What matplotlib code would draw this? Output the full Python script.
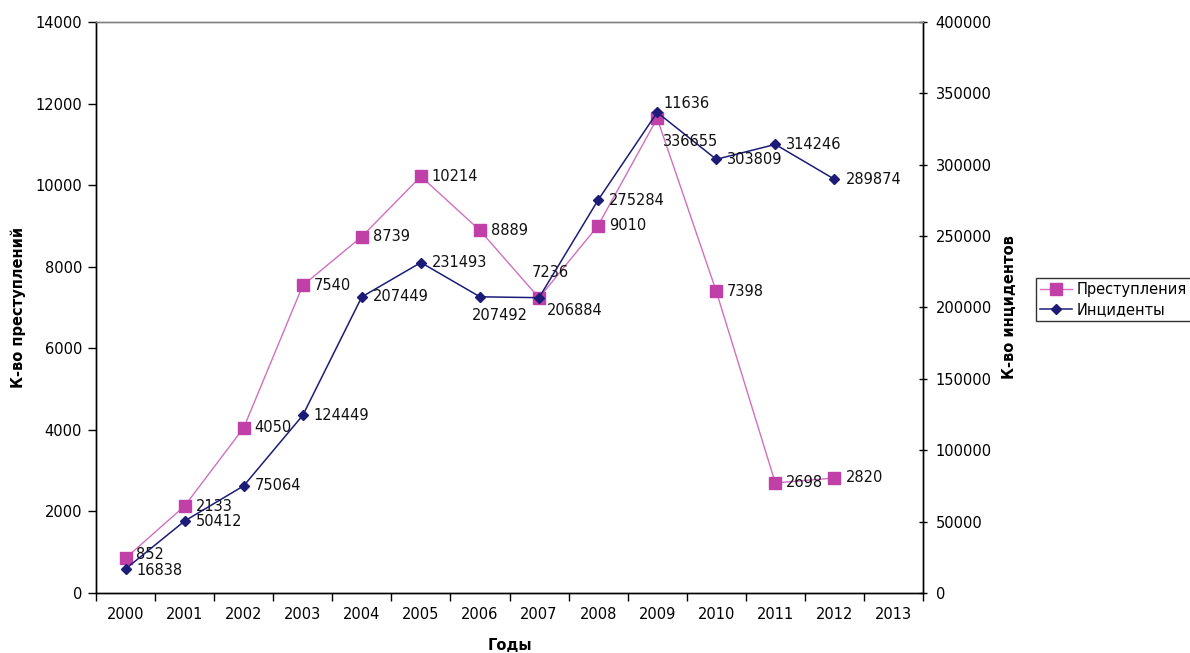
import numpy as np
import matplotlib
matplotlib.use('Agg')
import matplotlib.pyplot as plt

years = ['2000', '2001', '2002', '2003', '2004', '2005', '2006',
         '2007', '2008', '2009', '2010', '2011', '2012', '2013']
crimes = [852, 2133, 4050, 7540, 8739, 10214, 8889, 7236, 9010, 11636, 7398, 2698, 2820]
incidents = [16838, 50412, 75064, 124449, 207449, 231493, 207492, 206884,
             275284, 336655, 303809, 314246, 289874]

# label offsets in pixels (dx, dy up), default is to the right of the point
crime_off = {0: (10, 4, 'left'), 7: (11, 25, 'center'), 9: (6, 15, 'left')}
inc_off = {0: (11, -2, 'left'), 6: (20, -19, 'center'), 7: (8, -13, 'left'),
           9: (6, -29, 'left')}

c_col = '#c040a8'
c_line = '#d070c0'
i_col = '#1c1c78'

plt.rcParams['font.family'] = 'DejaVu Sans'
plt.rcParams['font.size'] = 10.5

fig = plt.figure(figsize=(11.9, 6.53), dpi=100)
ax = fig.add_axes([96/1190, 1-593/653, 827/1190, 571/653])
ax2 = ax.twinx()

x = np.arange(len(crimes))
lc, = ax.plot(x, crimes, color=c_line, lw=1.0, marker='s', ms=8,
              mfc=c_col, mec=c_col, label='Преступления')
li, = ax2.plot(x, incidents, color=i_col, lw=1.1, marker='D', ms=5,
               mfc=i_col, mec=i_col, label='Инциденты')

k = 0.72  # px -> pt
for i, v in enumerate(crimes):
    dx, dy, ha = crime_off.get(i, (11, 0, 'left'))
    ax.annotate(str(v), (x[i], v), xytext=(dx*k, dy*k), textcoords='offset points',
                ha=ha, va='center', color='#111111')
for i, v in enumerate(incidents):
    dx, dy, ha = inc_off.get(i, (11, 0, 'left'))
    ax2.annotate(str(v), (x[i], v), xytext=(dx*k, dy*k), textcoords='offset points',
                 ha=ha, va='center', color='#111111')

ax.set_xlim(-0.5, len(years) - 0.5)
ax.set_ylim(0, 14000)
ax2.set_ylim(0, 400000)
ax.set_yticks(np.arange(0, 14001, 2000))
ax2.set_yticks(np.arange(0, 400001, 50000))

ax.set_xticks(np.arange(len(years)))
ax.set_xticklabels(years)
ax.set_xticks(np.arange(-0.5, len(years), 1), minor=True)
ax.tick_params(axis='x', which='major', length=0, pad=10)
ax.tick_params(axis='x', which='minor', length=6, width=1, direction='out')
ax.tick_params(axis='y', length=6, width=1, direction='out', pad=4)
ax2.tick_params(axis='y', length=6, width=1, direction='inout', pad=6)

for a in (ax, ax2):
    for s in a.spines.values():
        s.set_linewidth(1.0)
        s.set_color('black')
ax.spines['top'].set_color('#808080')
ax2.spines['top'].set_color('#808080')

fig.text(18/1190, 1-307/653, 'К-во преступлений', rotation=90, ha='center', va='center',
         fontweight='bold')
fig.text(1010/1190, 1-307/653, 'К-во инцидентов', rotation=90, ha='center', va='center',
         fontweight='bold')
fig.text(510/1190, 1-645/653, 'Годы', ha='center', va='center', fontweight='bold')

leg = fig.legend([lc, li], ['Преступления', 'Инциденты'], loc='upper left',
                 bbox_to_anchor=(1036/1190, 1-278/653), frameon=True, fancybox=False,
                 borderpad=0.3, handlelength=2.2, handletextpad=0.3, labelspacing=0.3,
                 borderaxespad=0)
leg.get_frame().set_edgecolor('black')
leg.get_frame().set_linewidth(1.0)

fig.savefig('out.png', dpi=100)
